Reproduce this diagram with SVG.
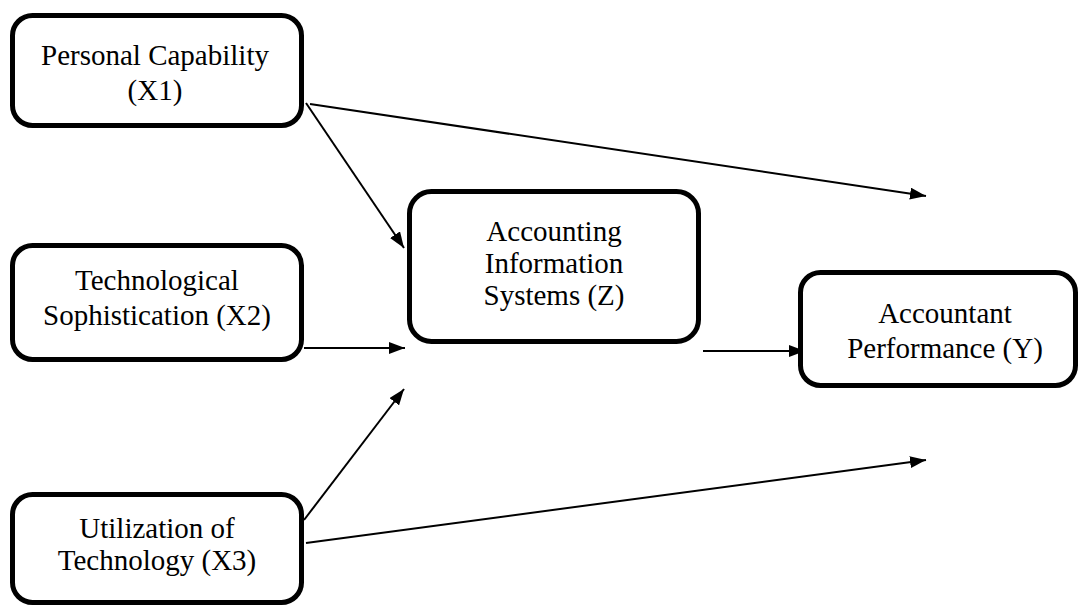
<svg xmlns="http://www.w3.org/2000/svg" width="1079" height="606" viewBox="0 0 1079 606">
<style>
.box{fill:#fff;stroke:#000;stroke-width:5}
.lbl{font-family:"Liberation Serif","Times New Roman",serif;font-size:29px;fill:#000;text-anchor:middle}
.con{stroke:#000;stroke-width:2;fill:none}
</style>
<defs>
<marker id="ah" markerWidth="16" markerHeight="12" refX="16" refY="6" orient="auto" markerUnits="userSpaceOnUse">
<path d="M0,0 L16,6 L0,12 Z" fill="#000"/>
</marker>
</defs>
<rect width="1079" height="606" fill="#fff"/>
<g id="connectors">
<line class="con" x1="306" y1="103" x2="404" y2="248" marker-end="url(#ah)"/>
<line class="con" x1="310" y1="104" x2="926" y2="196" marker-end="url(#ah)"/>
<line class="con" x1="304" y1="348" x2="405" y2="348" marker-end="url(#ah)"/>
<line class="con" x1="304" y1="520" x2="404" y2="389" marker-end="url(#ah)"/>
<line class="con" x1="306" y1="543" x2="926" y2="460" marker-end="url(#ah)"/>
<line class="con" x1="703" y1="351" x2="805" y2="351" marker-end="url(#ah)"/>
</g>
<g id="x1">
<rect class="box" x="12.5" y="15.5" width="289" height="110" rx="20"/>
<text class="lbl" x="155" y="65">Personal Capability</text>
<text class="lbl" x="155" y="100">(X1)</text>
</g>
<g id="x2">
<rect class="box" x="12.5" y="245.5" width="289" height="114" rx="20"/>
<text class="lbl" x="157" y="290">Technological</text>
<text class="lbl" x="157" y="325">Sophistication (X2)</text>
</g>
<g id="x3">
<rect class="box" x="12.5" y="494.5" width="289" height="108" rx="20"/>
<text class="lbl" x="157" y="538">Utilization of</text>
<text class="lbl" x="157" y="570">Technology (X3)</text>
</g>
<g id="z">
<rect class="box" x="409.5" y="191.5" width="289" height="150" rx="22"/>
<text class="lbl" x="554" y="241">Accounting</text>
<text class="lbl" x="554" y="273">Information</text>
<text class="lbl" x="554" y="305">Systems (Z)</text>
</g>
<g id="y">
<rect class="box" x="800.5" y="272.5" width="275" height="113" rx="20"/>
<text class="lbl" x="945" y="323">Accountant</text>
<text class="lbl" x="945" y="358">Performance (Y)</text>
</g>
</svg>
